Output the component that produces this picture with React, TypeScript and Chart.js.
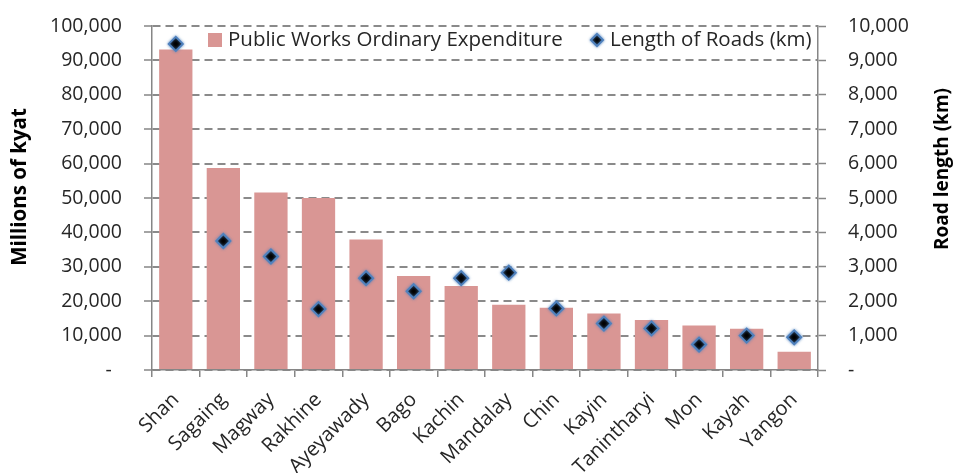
import { useEffect, useRef } from 'react';
import { Chart, registerables } from 'chart.js';

Chart.register(...registerables);

const categories = ['Shan', 'Sagaing', 'Magway', 'Rakhine', 'Ayeyawady', 'Bago', 'Kachin', 'Mandalay', 'Chin', 'Kayin', 'Tanintharyi', 'Mon', 'Kayah', 'Yangon'];
const expenditure = [93200, 58700, 51600, 50000, 37900, 27300, 24400, 19000, 18100, 16400, 14500, 12900, 12000, 5300];
const roadLength = [9480, 3750, 3300, 1770, 2670, 2290, 2670, 2830, 1790, 1350, 1210, 740, 1000, 950];
const leftTickLabels = ['-  ', '10,000', '20,000', '30,000', '40,000', '50,000', '60,000', '70,000', '80,000', '90,000', '100,000'];
const rightTickLabels = ['-', '1,000', '2,000', '3,000', '4,000', '5,000', '6,000', '7,000', '8,000', '9,000', '10,000'];
const seriesNames = ['Public Works Ordinary Expenditure', 'Length of Roads (km)'];
const axisTitles = ['Millions of kyat', 'Road length (km)'];

const FONT = '"Open Sans", Lato, sans-serif';
const TICK_SIZE = 19.5;
const XLABEL_SIZE = 20;
const LEGEND_SIZE = 20.5;
const BAR_COLOR = '#D99694';
const MARKER_FILL = '#000000';
const MARKER_BORDER = '#4F81BD';
const AXIS_COLOR = '#868686';
const TEXT_COLOR = '#262626';

const overlayPlugin = {
  id: 'overlay',
  beforeDatasetDraw(chart: any, args: any) {
    if (args.index === 1) {
      const ctx = chart.ctx;
      ctx.save();
      ctx.shadowColor = 'rgba(79,129,189,0.8)';
      ctx.shadowBlur = 3;
    }
  },
  afterDatasetDraw(chart: any, args: any) {
    if (args.index === 1) chart.ctx.restore();
  },
  afterDraw(chart: any) {
    const ctx = chart.ctx;
    const area = chart.chartArea;
    ctx.save();
    // legend
    const ly = area.top + 14;
    ctx.font = `${LEGEND_SIZE}px ${FONT}`;
    ctx.textBaseline = 'middle';
    ctx.textAlign = 'left';
    ctx.fillStyle = BAR_COLOR;
    ctx.fillRect(area.left + 56, ly - 7, 14, 14);
    ctx.fillStyle = TEXT_COLOR;
    ctx.fillText(seriesNames[0], area.left + 76, ly);
    const dx = area.left + 445;
    ctx.save();
    ctx.shadowColor = 'rgba(79,129,189,0.8)';
    ctx.shadowBlur = 3;
    ctx.beginPath();
    ctx.moveTo(dx, ly - 6);
    ctx.lineTo(dx + 6, ly);
    ctx.lineTo(dx, ly + 6);
    ctx.lineTo(dx - 6, ly);
    ctx.closePath();
    ctx.fillStyle = MARKER_FILL;
    ctx.fill();
    ctx.lineWidth = 2;
    ctx.strokeStyle = MARKER_BORDER;
    ctx.stroke();
    ctx.restore();
    ctx.fillStyle = TEXT_COLOR;
    ctx.fillText(seriesNames[1], area.left + 458, ly);
    // axis titles
    ctx.fillStyle = '#000';
    ctx.textAlign = 'center';
    ctx.save();
    ctx.font = `bold 20.5px ${FONT}`;
    ctx.translate(20, 187);
    ctx.rotate(-Math.PI / 2);
    ctx.fillText(axisTitles[0], 0, 0);
    ctx.restore();
    ctx.save();
    ctx.font = `bold 19px ${FONT}`;
    ctx.translate(943, 169);
    ctx.rotate(-Math.PI / 2);
    ctx.fillText(axisTitles[1], 0, 0);
    ctx.restore();
    ctx.restore();
  },
};

export default function App() {
  const ref = useRef<HTMLCanvasElement>(null);
  useEffect(() => {
    if (!ref.current) return;
    const chart = new Chart(ref.current, {
      type: 'bar',
      data: {
        labels: categories,
        datasets: [
          {
            type: 'bar',
            label: seriesNames[0],
            data: expenditure,
            backgroundColor: BAR_COLOR,
            borderWidth: 0,
            barPercentage: 1,
            categoryPercentage: 0.7,
            yAxisID: 'y',
            order: 1,
          },
          {
            type: 'line',
            label: seriesNames[1],
            data: roadLength,
            showLine: false,
            pointStyle: 'rectRot',
            pointRadius: 7,
            pointBackgroundColor: MARKER_FILL,
            pointBorderColor: MARKER_BORDER,
            pointBorderWidth: 2,
            yAxisID: 'y1',
            order: 0,
          } as any,
        ],
      },
      options: {
        animation: false,
        responsive: true,
        maintainAspectRatio: false,
        layout: { padding: { top: 26, left: 0, right: 0, bottom: 0 } },
        plugins: { legend: { display: false }, tooltip: { enabled: false } },
        scales: {
          x: {
            grid: { display: true, drawOnChartArea: false, drawTicks: true, tickLength: 7, color: AXIS_COLOR, lineWidth: 1.5, offset: true },
            border: { color: AXIS_COLOR, width: 1.5 },
            ticks: { font: { family: FONT, size: XLABEL_SIZE }, color: TEXT_COLOR, maxRotation: 45, minRotation: 45, padding: 11, autoSkip: false },
            afterFit: (s: any) => { s.height = 103; },
          },
          y: {
            position: 'left',
            min: 0,
            max: 100000,
            ticks: { stepSize: 10000, callback: (_v: any, i: number) => leftTickLabels[i], font: { family: FONT, size: TICK_SIZE }, color: TEXT_COLOR, padding: 22 },
            grid: { color: '#8a8a8a', lineWidth: 2, tickColor: AXIS_COLOR, tickWidth: 1.5, tickLength: 8, drawTicks: true },
            border: { color: AXIS_COLOR, width: 1.5, dash: [8, 5] },
            afterFit: (s: any) => { s.width = 152; s.paddingTop = 0; s.paddingBottom = 0; },
          },
          y1: {
            position: 'right',
            min: 0,
            max: 10000,
            ticks: { stepSize: 1000, callback: (_v: any, i: number) => rightTickLabels[i], font: { family: FONT, size: TICK_SIZE }, color: TEXT_COLOR, padding: 22 },
            grid: { drawOnChartArea: false, tickColor: AXIS_COLOR, tickWidth: 1.5, tickLength: 8, drawTicks: true, color: AXIS_COLOR },
            border: { color: AXIS_COLOR, width: 1.5 },
            afterFit: (s: any) => { s.width = 135; s.paddingTop = 0; s.paddingBottom = 0; },
          },
        },
      } as any,
      plugins: [overlayPlugin],
    });
    return () => chart.destroy();
  }, []);
  return (
    <div style={{ position: 'absolute', left: 0, top: 0, width: 953, height: 473 }}>
      <canvas ref={ref} />
    </div>
  );
}
